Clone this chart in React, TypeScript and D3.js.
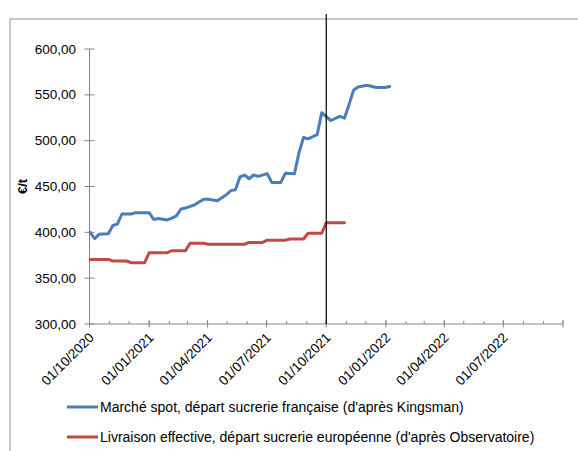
import React from "react";
import * as d3 from "d3";

// weekly quotes (Fridays), vertices
const spotDates = [
  "2020-10-02", "2020-10-09", "2020-10-16", "2020-10-30", "2020-11-06", "2020-11-13",
  "2020-11-20", "2020-12-04", "2020-12-11", "2021-01-01", "2021-01-08", "2021-01-15",
  "2021-01-29", "2021-02-05", "2021-02-12", "2021-02-19", "2021-02-26", "2021-03-12",
  "2021-03-26", "2021-04-02", "2021-04-16", "2021-04-30", "2021-05-07", "2021-05-14",
  "2021-05-21", "2021-05-28", "2021-06-04", "2021-06-11", "2021-06-18", "2021-07-02",
  "2021-07-09", "2021-07-23", "2021-07-30", "2021-08-13", "2021-08-20", "2021-08-27",
  "2021-09-03", "2021-09-17", "2021-09-24", "2021-10-08", "2021-10-22", "2021-10-29",
  "2021-11-05", "2021-11-12", "2021-11-19", "2021-12-03", "2021-12-17", "2021-12-31",
  "2022-01-07",
];
const spotValues = [
  400, 393, 398, 398.5, 407.5, 409,
  420, 420, 421.5, 421.5, 414, 415,
  413.5, 415.5, 418, 425.5, 426.5, 430,
  436, 436, 434.5, 441, 445.5, 446.5,
  460.5, 462.5, 458.5, 462.5, 461, 464,
  454.5, 454.5, 464.5, 464, 487, 503.5,
  502, 506.5, 530.5, 522, 526.5, 524.5,
  539, 555, 558.5, 560.5, 558, 558,
  559,
];

const livDates = [
  "2020-10-02", "2020-10-30", "2020-11-06", "2020-11-27", "2020-12-04", "2020-12-25",
  "2021-01-01", "2021-01-29", "2021-02-05", "2021-02-26", "2021-03-05", "2021-03-26",
  "2021-04-02", "2021-05-28", "2021-06-04", "2021-06-25", "2021-07-02", "2021-07-30",
  "2021-08-06", "2021-08-27", "2021-09-03", "2021-09-24", "2021-10-01", "2021-10-29",
];
const livValues = [
  370.5, 370.5, 368.7, 368.7, 366.9, 366.9,
  377.8, 377.8, 380, 380, 388, 388,
  387, 387, 389, 389, 391.5, 391.5,
  392.7, 392.7, 399, 399, 410.5, 410.5,
];

const yTicks = [300, 350, 400, 450, 500, 550, 600];
const xTickLabels = [
  "01/10/2020", "01/01/2021", "01/04/2021", "01/07/2021",
  "01/10/2021", "01/01/2022", "01/04/2022", "01/07/2022",
];
const legendLabels = [
  "Marché spot, départ sucrerie française (d'après Kingsman)",
  "Livraison effective, départ sucrerie européenne (d'après Observatoire)",
];
const markerDate = "01/10/2021";

const BLUE = "#4A7EBB";
const RED = "#BE4B48";
const AXIS = "#868686";
const FONT = "'Liberation Sans', Arial, sans-serif";

export default function App() {
  const parse = d3.timeParse("%Y-%m-%d");
  const parseFr = d3.timeParse("%d/%m/%Y");

  const x = d3
    .scaleTime()
    .domain([new Date(2020, 9, 1), new Date(2022, 9, 1)])
    .range([89.5, 563]);
  const y = d3.scaleLinear().domain([300, 600]).range([324, 49]);

  const spot = spotDates.map((d, i) => [parse(d) as Date, spotValues[i]] as [Date, number]);
  const liv = livDates.map((d, i) => [parse(d) as Date, livValues[i]] as [Date, number]);

  const line = d3
    .line<[Date, number]>()
    .x((d) => x(d[0]))
    .y((d) => y(d[1]));

  const majorTicks = d3.timeMonth.every(3)!.range(new Date(2020, 9, 1), new Date(2022, 9, 2));
  const minorTicks = d3.timeMonth.range(new Date(2020, 9, 1), new Date(2022, 9, 2));
  const fmt = (v: number) => d3.format(".2f")(v).replace(".", ",");
  const xm = x(parseFr(markerDate) as Date);
  const axisY = y(300);
  const axisX = x.range()[0];

  return (
    <svg
      width={578}
      height={451}
      style={{ position: "absolute", left: 0, top: 0, background: "#fff" }}
      fontFamily={FONT}
    >
      <rect x={10} y={19} width={700} height={600} fill="none" stroke="#a6a6a6" strokeWidth={1.2} />

      {/* y axis */}
      <line x1={axisX} x2={axisX} y1={y(600)} y2={axisY} stroke={AXIS} strokeWidth={1} />
      {yTicks.map((t) => (
        <g key={t}>
          <line x1={axisX - 5} x2={axisX + 5} y1={y(t)} y2={y(t)} stroke={AXIS} />
          <text x={76} y={y(t) + 4.5} textAnchor="end" fontSize={13.5} fill="#000">
            {fmt(t)}
          </text>
        </g>
      ))}
      <text
        transform={`translate(27,${y(450)}) rotate(-90)`}
        textAnchor="middle"
        fontSize={13}
        fontWeight="bold"
      >
        €/t
      </text>

      {/* x axis */}
      <line x1={axisX} x2={x.range()[1]} y1={axisY} y2={axisY} stroke={AXIS} />
      {minorTicks.map((d, i) => (
        <line key={"m" + i} x1={x(d)} x2={x(d)} y1={axisY - 3} y2={axisY} stroke={AXIS} />
      ))}
      {majorTicks.map((d, i) => (
        <line key={"M" + i} x1={x(d)} x2={x(d)} y1={axisY - 4} y2={axisY + 3.5} stroke={AXIS} />
      ))}
      {xTickLabels.map((l) => {
        const xp = x(parseFr(l) as Date);
        return (
          <text
            key={l}
            transform={`translate(${xp + 2},${axisY + 11}) rotate(-45)`}
            textAnchor="end"
            dy="0.35em"
            fontSize={13.5}
          >
            {l}
          </text>
        );
      })}

      {/* series */}
      <path d={line(liv) || ""} fill="none" stroke={RED} strokeWidth={3} strokeLinejoin="round" strokeLinecap="round" />
      <path d={line(spot) || ""} fill="none" stroke={BLUE} strokeWidth={3} strokeLinejoin="round" strokeLinecap="round" />

      {/* marker at 01/10/2021 */}
      <line x1={xm} x2={xm} y1={14} y2={axisY} stroke="#000" strokeWidth={1.2} />

      {/* legend */}
      {legendLabels.map((l, i) => (
        <g key={l}>
          <line x1={67} x2={98} y1={407 + i * 30} y2={407 + i * 30} stroke={i === 0 ? BLUE : RED} strokeWidth={3} />
          <text x={100} y={412 + i * 30} fontSize={14}>
            {l}
          </text>
        </g>
      ))}
    </svg>
  );
}
